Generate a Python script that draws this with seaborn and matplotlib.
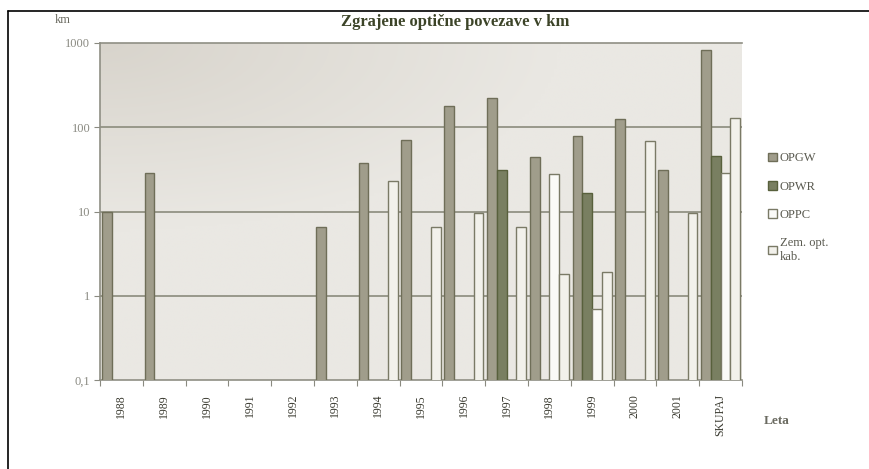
import numpy as np
import pandas as pd
import matplotlib
matplotlib.use('Agg')
import matplotlib.pyplot as plt
import seaborn as sns
from matplotlib.lines import Line2D

nan = np.nan

years = ['1988', '1989', '1990', '1991', '1992', '1993', '1994', '1995',
         '1996', '1997', '1998', '1999', '2000', '2001', 'SKUPAJ']
series = ['OPGW', 'OPWR', 'OPPC', 'Zem. opt.\nkab.']

opgw = [10, 29, nan, nan, nan, 6.5, 38, 70, 178, 221, 44, 78, 124, 31, 826]
opwr = [nan, nan, nan, nan, nan, nan, nan, nan, nan, 31, nan, 16.4, nan, nan, 46]
oppc = [nan, nan, nan, nan, nan, nan, nan, nan, nan, nan, 28, 0.7, nan, nan, 29]
zem = [nan, nan, nan, nan, nan, nan, 23, 6.5, 9.7, 6.5, 1.8, 1.9, 68, 9.7, 128]

yticks = [0.1, 1, 10, 100, 1000]
ytick_labels = ['0,1', '1', '10', '100', '1000']

df = pd.DataFrame({'Leto': years * 4,
                   'Serija': np.repeat(series, len(years)),
                   'km': opgw + opwr + oppc + zem}).dropna()

sns.set_style('white')
plt.rcParams['font.family'] = ['Liberation Serif', 'DejaVu Serif']

fig = plt.figure(figsize=(8.69, 4.69), dpi=100)
ax = fig.add_axes([100 / 869, 1 - 380 / 469, 642 / 869, 337 / 469])

fills = ['#a3a088', '#7c845c', '#fbfbf6', '#f3f2ea']
edges = ['#6f6e58', '#58603c', '#7a7a66', '#7a7a66']

sns.barplot(data=df, x='Leto', y='km', hue='Serija', order=years,
            hue_order=series, palette=fills, width=0.92, gap=0,
            log_scale=True, ax=ax, zorder=3, linewidth=1.0)
for cont, ec in zip(ax.containers, edges):
    for bar in cont:
        bar.set_edgecolor(ec)

# paper-like grey background, darker towards the upper left
gx, gy = np.meshgrid(np.linspace(0, 1, 200), np.linspace(0, 1, 120))
shade = np.clip(1 - np.hypot(gx * 1.4, gy * 1.8), 0, 1)
base = np.array([234, 232, 227]) / 255
dark = np.array([216, 212, 204]) / 255
img = base + (dark - base) * shade[..., None]
ax.imshow(img, extent=[0, 1, 0, 1], transform=ax.transAxes,
          aspect='auto', zorder=0, interpolation='bilinear')

ax.set_yscale('log')
ax.set_ylim(0.1, 1000)
ax.set_xlim(-0.5, len(years) - 0.5)
for v in [1, 10, 100]:
    ax.axhline(v, color='#929284', lw=1.3, zorder=1)

ax.set_yticks(yticks)
ax.set_yticklabels(ytick_labels)
ax.yaxis.set_minor_locator(matplotlib.ticker.NullLocator())
ax.tick_params(axis='y', length=4, width=0.8, color='#8a8a80',
               labelsize=9, labelcolor='#8a8a82', left=True, pad=3)

ax.set_xticks(range(len(years)))
ax.set_xticklabels(years, rotation=90)
ax.set_xticks(np.arange(-0.5, len(years), 1), minor=True)
ax.tick_params(axis='x', which='major', length=0, labelsize=8.5,
               labelcolor='#3a3a30', pad=10)
ax.tick_params(axis='x', which='minor', length=4, width=0.8,
               color='#8a8a80', bottom=True)

ax.set_xlabel('')
ax.set_ylabel('')
for side in ['left', 'bottom', 'top']:
    ax.spines[side].set_color('#8f8f84')
    ax.spines[side].set_linewidth(1.2)
ax.spines['right'].set_visible(False)

handles, labels = ax.get_legend_handles_labels()
leg = ax.legend(handles, labels, loc='upper left',
                bbox_to_anchor=(757 / 869, 1 - 141 / 469),
                bbox_transform=fig.transFigure, frameon=False, handlelength=0.7,
                handleheight=0.7, handletextpad=0.2, labelspacing=1.3, fontsize=9,
                labelcolor='#5a5a50')
for h, ec in zip(leg.legend_handles, edges):
    h.set_edgecolor(ec)
    h.set_linewidth(1.0)

fig.text(455 / 869, 1 - 22 / 469, 'Zgrajene optične povezave v km', ha='center',
         va='center', fontsize=12, fontweight='bold', color='#3c4428')
fig.text(63 / 869, 1 - 20 / 469, 'km', ha='center', va='center', fontsize=9,
         color='#6a6a60')
fig.text(777 / 869, 1 - 421 / 469, 'Leta', ha='center', va='center', fontsize=9.5,
         fontweight='bold', color='#6a6a60')

# page frame lines (left and top)
fig.add_artist(Line2D([8 / 869, 8 / 869], [0, 1 - 11 / 469], color='black',
                      lw=1.2, transform=fig.transFigure))
fig.add_artist(Line2D([8 / 869, 1], [1 - 11 / 469, 1 - 11 / 469], color='black',
                      lw=1.2, transform=fig.transFigure))

fig.savefig('out.png', dpi=100, facecolor='white')
